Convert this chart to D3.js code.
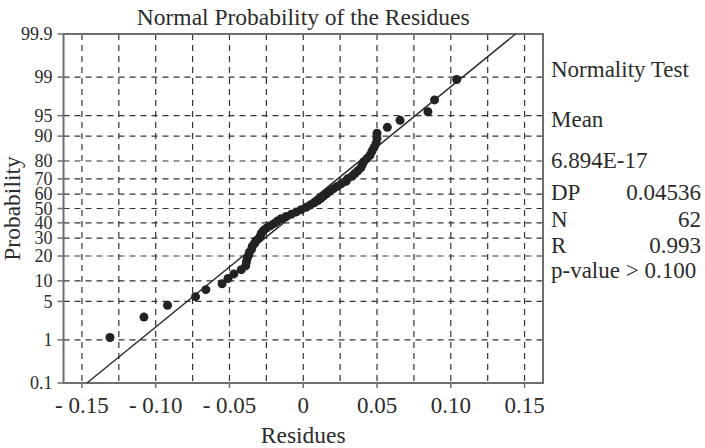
<!DOCTYPE html>
<meta charset="utf-8" />
<script src="https://d3js.org/d3.v7.js"></script>
<style>
  body { margin: 0; background: #fff; }
  text { font-family: "Liberation Serif", "DejaVu Serif", serif; fill: #2b2b2b; }
</style>
<div id="my_dataviz"></div>
<script>
  // sorted residues (62 points)
  var residues = [
    -0.131, -0.108, -0.092, -0.073, -0.066, -0.055, -0.051, -0.047, -0.042, -0.039,
    -0.0385, -0.038, -0.037, -0.0365, -0.035, -0.0345, -0.033, -0.032, -0.030, -0.029,
    -0.0284, -0.027, -0.025, -0.0223, -0.0196, -0.0176, -0.015, -0.0115, -0.008, -0.0047,
    -0.0014, 0.002, 0.0047, 0.0074, 0.010, 0.012, 0.014, 0.016, 0.018, 0.0203,
    0.023, 0.0257, 0.029, 0.030, 0.033, 0.035, 0.037, 0.039, 0.040, 0.041,
    0.0433, 0.0453, 0.0466, 0.048, 0.0494, 0.050, 0.050, 0.057, 0.0656, 0.0845,
    0.089, 0.104
  ];
  // plotted probability (%) of each point
  var probs = [
    1.12, 2.72, 4.33, 5.93, 7.53, 9.13, 10.74, 12.34, 13.94, 15.54,
    17.15, 18.75, 20.35, 21.96, 23.56, 25.16, 26.76, 28.37, 29.97, 31.57,
    33.17, 34.78, 36.38, 37.98, 39.58, 41.19, 42.79, 44.39, 46.0, 47.6,
    49.2, 50.8, 52.4, 54.0, 55.61, 57.21, 58.81, 60.42, 62.02, 63.62,
    65.22, 66.83, 68.43, 70.03, 71.63, 73.24, 74.84, 76.44, 78.04, 79.65,
    81.25, 82.85, 84.46, 86.06, 87.66, 89.26, 90.87, 92.47, 94.07, 95.67,
    97.28, 98.88
  ];
  // fitted line ends
  var fitX = [-0.1466, 0.1439];
  var fitP = [0.1, 99.9];

  var yTicks = [0.1, 1, 5, 10, 20, 30, 40, 50, 60, 70, 80, 90, 95, 99, 99.9];
  var yGrid = [1, 5, 10, 20, 30, 40, 50, 60, 70, 80, 90, 95, 99];
  var xTicks = [-0.15, -0.1, -0.05, 0, 0.05, 0.1, 0.15];
  var xGrid = d3.range(-6, 7).map(function (k) { return k * 0.025; });

  var statLabels = ["DP", "N", "R"];
  var statValues = ["0.04536", "62", "0.993"];

  // inverse normal cdf (Acklam)
  function probit(p) {
    var a = [-39.69683028665376, 220.9460984245205, -275.9285104469687, 138.357751867269, -30.66479806614716, 2.506628277459239];
    var b = [-54.47609879822406, 161.5858368580409, -155.6989798598866, 66.80131188771972, -13.28068155288572];
    var c = [-0.007784894002430293, -0.3223964580411365, -2.400758277161838, -2.549732539343734, 4.374664141464968, 2.938163982698783];
    var d = [0.007784695709041462, 0.3224671290700398, 2.445134137142996, 3.754408661907416];
    var q, r;
    if (p < 0.02425) {
      q = Math.sqrt(-2 * Math.log(p));
      return (((((c[0] * q + c[1]) * q + c[2]) * q + c[3]) * q + c[4]) * q + c[5]) /
        ((((d[0] * q + d[1]) * q + d[2]) * q + d[3]) * q + 1);
    } else if (p > 1 - 0.02425) {
      q = Math.sqrt(-2 * Math.log(1 - p));
      return -(((((c[0] * q + c[1]) * q + c[2]) * q + c[3]) * q + c[4]) * q + c[5]) /
        ((((d[0] * q + d[1]) * q + d[2]) * q + d[3]) * q + 1);
    }
    q = p - 0.5;
    r = q * q;
    return (((((a[0] * r + a[1]) * r + a[2]) * r + a[3]) * r + a[4]) * r + a[5]) * q /
      (((((b[0] * r + b[1]) * r + b[2]) * r + b[3]) * r + b[4]) * r + 1);
  }

  const margin = { top: 34, right: 162, bottom: 65, left: 63.5 },
    width = 705 - margin.left - margin.right,
    height = 448 - margin.top - margin.bottom;

  const svg = d3
    .select("#my_dataviz")
    .append("svg")
    .attr("width", 705)
    .attr("height", 448)
    .append("g")
    .attr("transform", `translate(${margin.left}, ${margin.top})`);

  const x = d3.scaleLinear().domain([-0.1625, 0.1625]).range([0, width]);
  const z = d3.scaleLinear().domain([probit(0.001), probit(0.999)]).range([height, 0]);
  const y = function (pct) { return z(probit(pct / 100)); };

  // dashed grid
  var grid = svg.append("g").attr("class", "grid")
    .attr("stroke", "#333")
    .attr("stroke-width", 1.2)
    .attr("stroke-dasharray", "6,5");
  grid.selectAll(".hgrid")
    .data(yGrid)
    .join("line")
    .attr("class", "hgrid")
    .attr("x1", 0)
    .attr("x2", width)
    .attr("y1", (d) => y(d))
    .attr("y2", (d) => y(d));
  grid.selectAll(".vgrid")
    .data(xGrid)
    .join("line")
    .attr("class", "vgrid")
    .attr("x1", (d) => x(d))
    .attr("x2", (d) => x(d))
    .attr("y1", 0)
    .attr("y2", height);

  // frame
  svg.append("rect")
    .attr("width", width)
    .attr("height", height)
    .attr("fill", "none")
    .attr("stroke", "#6e6e6e")
    .attr("stroke-width", 2);

  // y ticks
  var yAxis = svg.append("g");
  yAxis.selectAll("line")
    .data(yTicks)
    .join("line")
    .attr("x1", -6)
    .attr("x2", 0)
    .attr("y1", (d) => y(d))
    .attr("y2", (d) => y(d))
    .attr("stroke", "#6e6e6e")
    .attr("stroke-width", 1.5);
  yAxis.selectAll("text")
    .data(yTicks)
    .join("text")
    .attr("x", -11)
    .attr("y", (d) => y(d))
    .attr("dy", "0.34em")
    .attr("text-anchor", "end")
    .style("font-size", "18px")
    .text((d) => d);

  // x ticks
  var xAxis = svg.append("g").attr("transform", `translate(0, ${height})`);
  xAxis.selectAll("line")
    .data(xTicks)
    .join("line")
    .attr("x1", (d) => x(d))
    .attr("x2", (d) => x(d))
    .attr("y1", 0)
    .attr("y2", 5)
    .attr("stroke", "#6e6e6e")
    .attr("stroke-width", 1.5);
  xAxis.selectAll("text")
    .data(xTicks)
    .join("text")
    .attr("x", (d) => x(d))
    .attr("y", 30)
    .attr("text-anchor", "middle")
    .style("font-size", "23px")
    .text(function (d) {
      if (Math.abs(d) < 1e-9) return "0";
      return d < 0 ? "- " + d3.format(".2f")(-d) : d3.format(".2f")(d);
    });

  // fitted line
  svg.append("line")
    .attr("x1", x(fitX[0]))
    .attr("y1", y(fitP[0]))
    .attr("x2", x(fitX[1]))
    .attr("y2", y(fitP[1]))
    .attr("stroke", "#2b2b2b")
    .attr("stroke-width", 1.4);

  // points
  svg.append("g")
    .selectAll("circle")
    .data(residues)
    .join("circle")
    .attr("cx", (d) => x(d))
    .attr("cy", (d, i) => y(probs[i]))
    .attr("r", 4.5)
    .attr("fill", "#222");

  // titles
  svg.append("text")
    .attr("x", width / 2)
    .attr("y", -9)
    .attr("text-anchor", "middle")
    .style("font-size", "23.5px")
    .text("Normal Probability of the Residues");
  svg.append("text")
    .attr("x", width / 2)
    .attr("y", height + 60)
    .attr("text-anchor", "middle")
    .style("font-size", "23.5px")
    .text("Residues");
  svg.append("text")
    .attr("transform", `translate(${-margin.left + 20}, ${height / 2}) rotate(-90)`)
    .attr("text-anchor", "middle")
    .style("font-size", "23.5px")
    .text("Probability");

  // normality test box
  var stats = svg.append("g").attr("transform", `translate(${width + 8}, 0)`);
  var rightEdge = margin.right - 12;
  stats.append("text").attr("x", 0).attr("y", 43).style("font-size", "23px").text("Normality Test");
  stats.append("text").attr("x", 0).attr("y", 93).style("font-size", "23px").text("Mean");
  stats.append("text").attr("x", 0).attr("y", 134).style("font-size", "23px").text("6.894E-17");
  stats.selectAll(".slab")
    .data(statLabels)
    .join("text")
    .attr("class", "slab")
    .attr("x", 0)
    .attr("y", (d, i) => 166 + i * 26.5)
    .style("font-size", "23px")
    .text((d) => d);
  stats.selectAll(".sval")
    .data(statValues)
    .join("text")
    .attr("class", "sval")
    .attr("x", rightEdge)
    .attr("y", (d, i) => 166 + i * 26.5)
    .attr("text-anchor", "end")
    .style("font-size", "23px")
    .text((d) => d);
  stats.append("text").attr("x", 0).attr("y", 244).style("font-size", "23px").text("p-value > 0.100");
</script>
